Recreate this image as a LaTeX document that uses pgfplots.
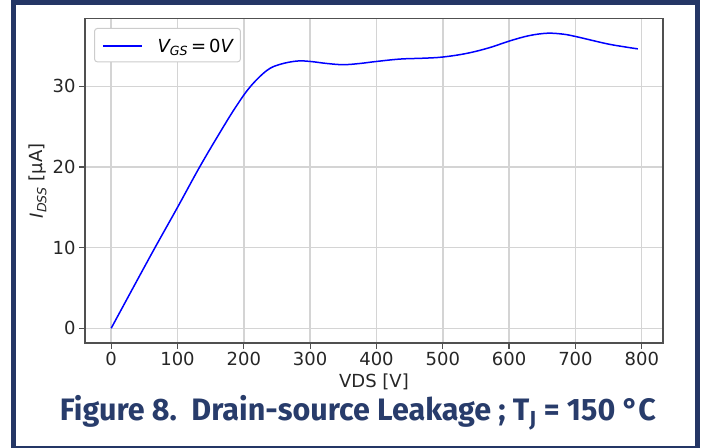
\documentclass[border=0pt]{standalone}
\usepackage{pgfplots}
\pgfplotsset{compat=1.18}
\usepackage{fontspec}
\setmainfont{DejaVu Sans}
\newfontfamily\titlefont{Fira Sans}
\definecolor{navy}{HTML}{243665}
\definecolor{titlec}{HTML}{283C6B}
\definecolor{gridc}{RGB}{212,212,212}
\definecolor{spine}{RGB}{80,80,80}

\begin{document}
\begin{tikzpicture}
\useasboundingbox (0pt,0pt) rectangle (701pt,447pt);
\begin{axis}[at={(85pt,104pt)}, anchor=south west
            , scale only axis
            , width=578pt
            , height=324.5pt
            , xmin=-39.5, xmax=832
            , ymin=-1.83, ymax=38.43
            , xtick={0,100,...,800}
            , ytick={0,10,20,30}
            , grid=major
            , major grid style={gridc, line width=1.4pt}
            , axis line style={spine, line width=1.3pt}
            , tick align=outside
            , major tick length=6pt
            , tick style={spine, line width=1.3pt}
            , tick pos=left
            , /pgf/number format/assume math mode=true
            , ticklabel style={font=\fontsize{18}{21}\selectfont, text=black!85}
            , xlabel={VDS [V]}
            , ylabel={{\itshape I}\textsubscript{\itshape DSS} [µA]}
            , label style={font=\fontsize{18}{21}\selectfont, text=black!85}
            , xlabel style={at={(0.5,0)}, anchor=base, yshift=-45pt}
            , ylabel style={at={(0,0.5)}, anchor=center, yshift=47pt}
            , legend style={at={(0.0156,0.971)}, anchor=north west
                           , draw=black!20, rounded corners=3pt, line width=1pt
                           , font=\fontsize{18}{21}\selectfont
                           , inner xsep=7.5pt, inner ysep=0pt
                           , nodes={inner sep=0pt}}
            , legend image code/.code={\draw[#1] (0pt,0pt) -- (39pt,0pt);
                                       \path (0pt,-15pt) (54pt,17pt);}
            ]
\addplot[color=blue, line width=1.5pt, smooth, tension=0.6] coordinates {
  (0, 0)
  (59, 8.95)
  (100, 15.0)
  (134, 20.1)
  (167, 24.7)
  (189, 27.6)
  (210, 30.0)
  (235, 32.0)
  (255, 32.75)
  (280, 33.15)
  (300, 33.1)
  (325, 32.85)
  (350, 32.7)
  (375, 32.85)
  (400, 33.1)
  (436, 33.4)
  (470, 33.5)
  (500, 33.65)
  (536, 34.1)
  (570, 34.8)
  (601, 35.65)
  (630, 36.3)
  (657, 36.6)
  (680, 36.5)
  (700, 36.2)
  (747, 35.3)
  (775, 34.9)
  (794, 34.66)
};
\addlegendentry{{\itshape V}\textsubscript{\itshape GS}\,=\,0{\itshape V}}
\end{axis}
\draw[navy, line width=5pt] (13pt,-1pt) rectangle (697pt,444pt);
\node[anchor=base, text=titlec, inner sep=0pt] at (358pt,27pt)
  {\resizebox{596pt}{\height}{\titlefont\bfseries\fontsize{31}{31}\selectfont Figure 8.\ \ Drain-source Leakage ; T\textsubscript{J} = 150 °C}};
\end{tikzpicture}
\end{document}
